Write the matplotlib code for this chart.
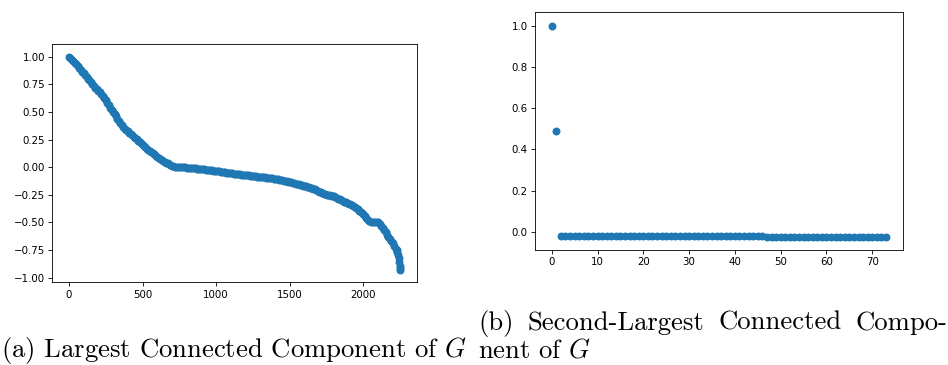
import matplotlib
matplotlib.use("Agg")
import matplotlib.pyplot as plt

plt.rcParams["mathtext.fontset"] = "cm"

# (a) largest connected component
lcc_idx = list(range(0, 2221, 10)) + [2225, 2230, 2235, 2240, 2243, 2246, 2248, 2249]
lcc_val = [
    1.000, 0.986, 0.972, 0.958, 0.944, 0.930, 0.914, 0.898, 0.882, 0.866,
    0.850, 0.834, 0.818, 0.802, 0.786, 0.770, 0.752, 0.734, 0.718, 0.704,
    0.690, 0.676, 0.662, 0.646, 0.626, 0.605, 0.583, 0.561, 0.540, 0.520,
    0.500, 0.480, 0.460, 0.440, 0.418, 0.397, 0.380, 0.363, 0.349, 0.337,
    0.325, 0.313, 0.301, 0.289, 0.277, 0.265, 0.253, 0.241, 0.229, 0.217,
    0.205, 0.193, 0.181, 0.169, 0.157, 0.145, 0.135, 0.125, 0.115, 0.105,
    0.095, 0.085, 0.075, 0.066, 0.058, 0.050, 0.042, 0.034, 0.026, 0.018,
    0.012, 0.008, 0.006, 0.005, 0.004, 0.003, 0.002, 0.001, -0.001, -0.002,
    -0.003, -0.004, -0.005, -0.007, -0.008, -0.010, -0.011, -0.012, -0.014, -0.015,
    -0.017, -0.019, -0.020, -0.022, -0.023, -0.025, -0.027, -0.029, -0.031, -0.033,
    -0.035, -0.037, -0.039, -0.041, -0.043, -0.045, -0.047, -0.049, -0.051, -0.053,
    -0.055, -0.057, -0.059, -0.061, -0.062, -0.064, -0.066, -0.067, -0.069, -0.070,
    -0.072, -0.074, -0.075, -0.077, -0.078, -0.080, -0.082, -0.083, -0.085, -0.086,
    -0.088, -0.090, -0.091, -0.093, -0.094, -0.096, -0.098, -0.099, -0.101, -0.103,
    -0.105, -0.107, -0.109, -0.112, -0.115, -0.118, -0.121, -0.124, -0.127, -0.131,
    -0.135, -0.138, -0.141, -0.145, -0.148, -0.151, -0.155, -0.158, -0.162, -0.166,
    -0.170, -0.174, -0.179, -0.183, -0.188, -0.192, -0.196, -0.201, -0.207, -0.214,
    -0.222, -0.228, -0.235, -0.241, -0.246, -0.250, -0.253, -0.256, -0.258, -0.260,
    -0.263, -0.270, -0.277, -0.284, -0.292, -0.300, -0.306, -0.312, -0.318, -0.324,
    -0.330, -0.336, -0.342, -0.350, -0.360, -0.370, -0.382, -0.394, -0.405, -0.415,
    -0.425, -0.440, -0.457, -0.474, -0.490, -0.495, -0.496, -0.497, -0.497, -0.498,
    -0.500, -0.518, -0.536, -0.554, -0.572, -0.590, -0.610, -0.630, -0.650, -0.670,
    -0.690, -0.716, -0.740,
    -0.750, -0.770, -0.795, -0.825, -0.860, -0.890, -0.910, -0.930,
]

# (b) second-largest connected component: 74 nodes
scc_val = [1.00, 0.49,
           -0.02, -0.02, -0.02, -0.02, -0.02, -0.02, -0.02, -0.02, -0.02, -0.02,
           -0.02, -0.02, -0.02, -0.02, -0.02, -0.02, -0.02, -0.02, -0.02, -0.02,
           -0.02, -0.02, -0.02, -0.02, -0.02, -0.02, -0.02, -0.02, -0.02, -0.02,
           -0.02, -0.02, -0.02, -0.02, -0.02, -0.02, -0.02, -0.02, -0.02, -0.02,
           -0.02, -0.02, -0.02, -0.02, -0.02,
           -0.028, -0.028, -0.028, -0.028, -0.028, -0.028, -0.028, -0.028, -0.028,
           -0.028, -0.028, -0.028, -0.028, -0.028, -0.028, -0.028, -0.028, -0.028,
           -0.028, -0.028, -0.028, -0.028, -0.028, -0.028, -0.028, -0.028, -0.028]
scc_idx = list(range(len(scc_val)))

W, H = 948, 365
fig = plt.figure(figsize=(W / 100, H / 100), dpi=100)


def px_axes(l, t, r, b):
    return fig.add_axes([l / W, 1 - b / H, (r - l) / W, (b - t) / H])


def style(ax):
    for s in ax.spines.values():
        s.set_linewidth(0.6)
    ax.tick_params(labelsize=7.4, length=2.6, width=0.6, pad=2.6)


ax1 = px_axes(52.3, 44, 416.7, 282.3)
ax1.scatter(lcc_idx, lcc_val, s=22, color="#1f77b4")
ax1.set_ylim(-1.042, 1.115)
ax1.set_yticks([1.0, 0.75, 0.5, 0.25, 0.0, -0.25, -0.5, -0.75, -1.0])
ax1.set_xticks([0, 500, 1000, 1500, 2000])
style(ax1)

ax2 = px_axes(535, 12.3, 902.7, 250)
ax2.scatter(scc_idx, scc_val, s=22, color="#1f77b4")
ax2.set_ylim(-0.089, 1.067)
ax2.set_xticks([0, 10, 20, 30, 40, 50, 60, 70])
style(ax2)


def caption(x, y, s):
    fig.text(x / W, 1 - y / H, s, fontsize=19.2, family="cmr10",
             ha="left", va="baseline")


# caption (b) is justified, so its words are spread over the line
for x, s in [(478, "(b)"), (527.5, "Second-Largest"), (718.5, "Connected"), (855.5, "Compo-")]:
    caption(x, 330, s)
caption(478, 357, "nent of $G$")

caption(1, 357, "(a) Largest Connected Component of $G$")

plt.savefig("out.png", dpi=100)
plt.close()
